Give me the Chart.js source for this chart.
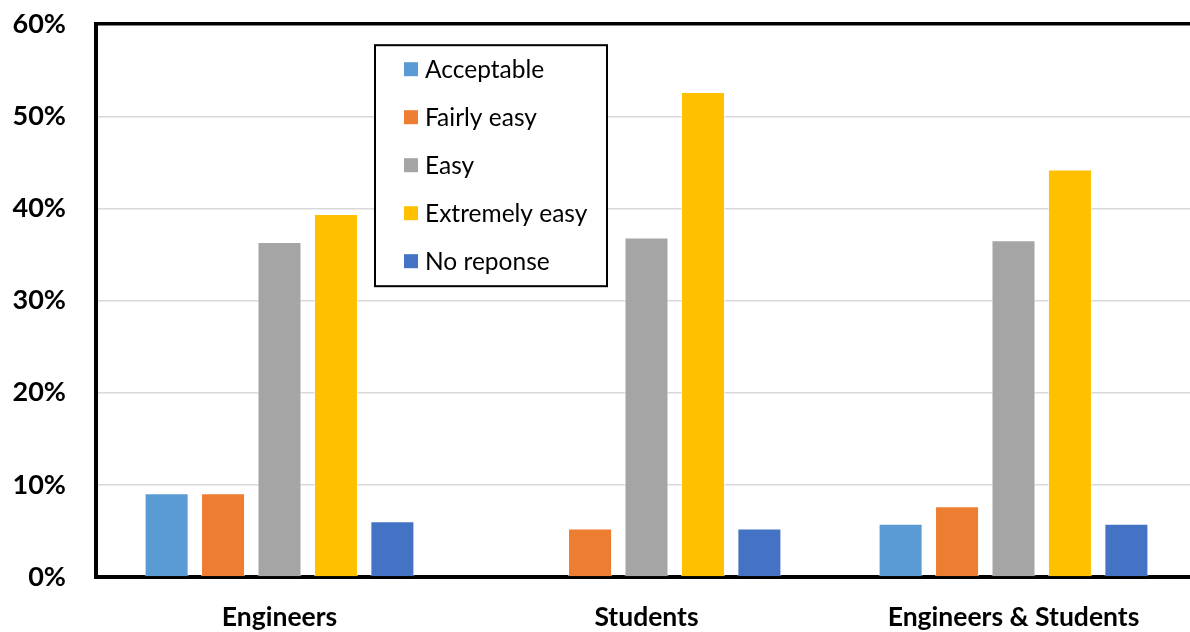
<!DOCTYPE html>
<html>
<head>
<meta charset="utf-8">
<script src="https://cdn.jsdelivr.net/npm/chart.js@4.4.1/dist/chart.umd.min.js"></script>
<style>
  html, body { margin: 0; padding: 0; background: #fff; overflow: hidden; }
  #wrap { position: relative; width: 1197px; height: 632px; overflow: hidden; }
  #c { position: absolute; left: 0; top: -22px; }
</style>
</head>
<body>
<div id="wrap"><canvas id="c" width="1197" height="654"></canvas></div>
<script>
const categories = ['Engineers', 'Students', 'Engineers & Students'];
const seriesNames = ['Acceptable', 'Fairly easy', 'Easy', 'Extremely easy', 'No reponse'];
const acceptable    = [9.09, 0, 5.77];
const fairlyEasy    = [9.09, 5.26, 7.69];
const easy          = [36.36, 36.84, 36.54];
const extremelyEasy = [39.39, 52.63, 44.23];
const noResponse    = [6.06, 5.26, 5.77];
const yTicks = [0, 10, 20, 30, 40, 50, 60];
const colors = ['#5b9bd5', '#ed7d31', '#a5a5a5', '#ffc000', '#4472c4'];

const seriesValues = [acceptable, fairlyEasy, easy, extremelyEasy, noResponse];
const FONT = 'Lato, "Open Sans", sans-serif';

// Boxed legend drawn inside the plot, top-left of centre
const boxLegend = {
  id: 'boxLegend',
  afterDraw(chart) {
    const ctx = chart.ctx;
    const top = chart.chartArea.top;
    const x0 = 375, y0 = top + 21, w = 232, h = 241;
    ctx.save();
    ctx.fillStyle = '#fff';
    ctx.fillRect(x0, y0, w, h);
    ctx.strokeStyle = '#000';
    ctx.lineWidth = 2;
    ctx.strokeRect(x0, y0, w, h);
    ctx.font = '24.5px ' + FONT;
    ctx.textBaseline = 'middle';
    chart.data.datasets.forEach((ds, i) => {
      const cy = y0 + 24 + i * 48;
      ctx.fillStyle = ds.backgroundColor;
      ctx.fillRect(404, cy - 7, 14, 14);
      ctx.fillStyle = '#000';
      ctx.fillText(ds.label, 425, cy + 1);
    });
    ctx.restore();
  }
};

new Chart(document.getElementById('c'), {
  type: 'bar',
  data: {
    labels: categories,
    datasets: seriesNames.map((name, i) => ({
      label: name,
      data: seriesValues[i],
      backgroundColor: colors[i],
      borderColor: 'rgba(255,255,255,0.6)',
      borderWidth: 1,
      categoryPercentage: 0.769,
      barPercentage: 0.78
    }))
  },
  options: {
    responsive: false,
    animation: false,
    layout: { padding: 0 },
    plugins: { legend: { display: false }, tooltip: { enabled: false } },
    scales: {
      x: {
        grid: { display: false },
        border: { color: '#000', width: 4 },
        ticks: { color: '#000', padding: 17, font: { family: FONT, size: 26.5, weight: 'bold' } },
        afterFit(scale) { scale.height = 55; }
      },
      y: {
        min: 0, max: 60,
        afterBuildTicks(scale) { scale.ticks = yTicks.map(v => ({ value: v })); },
        ticks: {
          color: '#000', padding: 30,
          font: { family: FONT, size: 27, weight: 'bold' },
          callback: v => v + '%'
        },
        grid: {
          drawTicks: false,
          color: ctx => ctx.tick && ctx.tick.value === 60 ? '#000' : '#d9d9d9',
          lineWidth: ctx => ctx.tick && ctx.tick.value === 60 ? 3.5 : 1.5
        },
        border: { color: '#000', width: 4 },
        afterFit(scale) { scale.width = 96; }
      }
    }
  },
  plugins: [boxLegend]
});
</script>
</body>
</html>
